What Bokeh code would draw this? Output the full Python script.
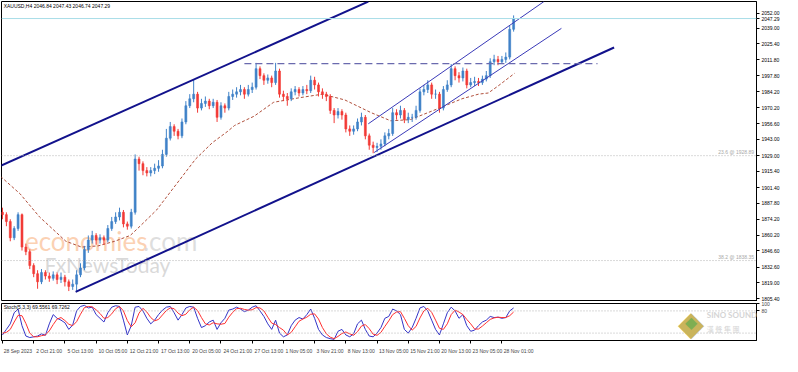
from bokeh.plotting import figure
from bokeh.models import Range1d, FixedTicker, PrintfTickFormatter, Span, Label, ColumnDataSource
from bokeh.layouts import column
from bokeh.embed import file_html
from bokeh.resources import INLINE

# ---------------- data ----------------
first_open = 1880
closes = [1878,1872,1858,1866,1878,1850,1846,1834,1827,1820,
          1828,1825,1823,1826,1822,1824,1820,1816,1818,1826,
          1832,1848,1856,1860,1856,1858,1856,1866,1872,1876,
          1880,1870,1868,1880,1926,1922,1916,1914,1916,1918,
          1920,1930,1944,1954,1950,1946,1958,1972,1978,1982,
          1970,1974,1976,1972,1975,1962,1972,1970,1980,1982,
          1984,1986,1982,1986,1988,2004,1998,1994,1996,1992,
          2002,1982,1980,1978,1984,1986,1983,1986,1985,1994,
          1990,1984,1982,1980,1968,1964,1967,1964,1952,1950,
          1952,1958,1962,1946,1938,1936,1937,1939,1946,1948,
          1966,1964,1968,1960,1962,1962,1968,1984,1986,1990,
          1982,1982,1970,1986,1990,2004,1998,1996,2002,1990,
          1992,1993,1992,1995,1998,2010,2012,2010,2012,2014,
          2038,2047.29]
highs = [1884,1880,1874,1868,1880,1879,1853,1848,1836,1830,
         1831,1830,1828,1829,1828,1828,1826,1822,1822,1830,
         1836,1851,1860,1864,1862,1861,1860,1869,1876,1880,
         1884,1882,1872,1883,1930,1928,1924,1919,1919,1922,
         1925,1934,1952,1958,1956,1952,1961,1976,1982,1995,
         1984,1978,1980,1978,1978,1977,1975,1974,1984,1986,
         1988,1990,1988,1990,1992,2009,2006,2000,1999,1998,
         2009,2004,1985,1983,1987,1989,1988,1989,1990,1998,
         1997,1992,1987,1984,1982,1970,1970,1969,1966,1955,
         1955,1961,1966,1964,1948,1941,1940,1943,1949,1952,
         1970,1969,1972,1970,1966,1965,1972,1987,1990,1994,
         1992,1986,1984,1989,1994,2008,2006,2001,2005,2004,
         1996,1997,1996,1998,2002,2013,2016,2015,2015,2018,
         2041,2050]
lows = [1874,1868,1855,1856,1864,1847,1843,1831,1824,1814,
        1818,1822,1820,1821,1818,1819,1816,1812,1813,1812,
        1824,1830,1845,1853,1852,1853,1852,1854,1864,1870,
        1873,1867,1865,1866,1878,1916,1912,1911,1911,1913,
        1915,1918,1928,1942,1946,1943,1944,1956,1970,1975,
        1966,1968,1971,1969,1970,1958,1960,1966,1968,1977,
        1979,1981,1978,1980,1983,1986,1995,1990,1991,1988,
        1990,1979,1976,1972,1976,1981,1980,1981,1982,1983,
        1986,1980,1978,1976,1965,1957,1961,1960,1949,1946,
        1947,1950,1955,1943,1934,1931,1932,1934,1937,1943,
        1946,1960,1961,1957,1957,1958,1960,1966,1981,1983,
        1978,1978,1966,1968,1984,1988,1994,1992,1993,1987,
        1988,1989,1989,1990,1993,1996,2007,2007,2008,2009,
        2012,2036]

# moving average: bar index, price
ma_idx = [-0.5, 4.5, 9.5, 16.25, 20.25, 24.5, 28.75, 32.75, 35.25, 39.5, 44.5, 49.5,
          53.75, 57.75, 59.5, 64.5, 69.5, 76.25, 82, 87.75, 94.5, 99.5, 104.5, 111.25,
          117.75, 122, 124.5, 127, 131.25]
ma_val = [1911, 1896, 1876, 1855, 1850, 1851, 1855, 1860, 1868, 1882, 1904, 1926,
          1940, 1950, 1955, 1963, 1975, 1979, 1982, 1977, 1966, 1959, 1960, 1969,
          1978, 1982, 1983, 1989, 2000]

# stochastic (5,3,3)
stoch_k = [15,30,45,75,85,40,12,8,10,12,
           18,14,45,70,60,55,48,30,42,80,
           92,95,88,90,70,60,50,75,90,94,
           92,55,15,40,90,92,80,60,45,55,
           70,82,90,92,75,55,70,88,92,90,
           60,35,40,50,55,30,48,60,82,85,
           90,85,78,82,90,94,80,65,45,30,
           55,20,10,15,40,55,62,58,70,85,
           60,30,15,8,5,3,25,30,15,10,
           18,45,55,30,12,10,20,35,60,65,
           85,80,70,30,20,35,60,88,92,80,
           55,30,15,45,75,90,80,60,70,40,
           25,28,40,50,55,65,62,63,60,62,
           80,88]
stoch_d = [20,22,30,50,68,67,46,20,10,10,
           13,15,26,43,58,62,54,44,40,51,
           71,89,92,91,83,73,60,62,72,86,
           92,80,54,37,48,74,87,77,62,53,
           57,69,81,88,86,74,67,71,83,90,
           81,62,45,42,48,45,44,46,63,76,
           86,87,84,82,83,89,88,80,63,47,
           43,35,28,15,22,37,52,58,63,71,
           72,58,35,18,9,5,11,19,23,18,
           14,24,39,43,32,17,14,22,38,53,
           70,77,78,60,40,28,38,61,80,87,
           76,55,33,30,45,70,82,77,70,57,
           45,31,31,39,48,57,61,63,62,62,
           67,77]

# drawn objects (bar index, price)
chan_upper_x = [-0.5, 93.75];   chan_upper_y = [1920.1, 2061.9]
chan_lower_x = [18.75, 156.75]; chan_lower_y = [1811.3, 2022.3]
inner_upper_x = [93.75, 138.75]; inner_upper_y = [1956.4, 2061.9]
inner_lower_x = [95.25, 143.25]; inner_lower_y = [1931.6, 2038.8]
resist_x = [62, 152.5]; resist_y = [2008.3, 2008.3]
fib_levels = [1928.89, 1838.35]
fib_texts = ["23.6 @ 1928.89", "38.2 @ 1838.35"]
last_price = 2047.29

price_ticks = [2052.00, 2039.00, 2025.40, 2011.80, 1997.80, 1984.20, 1970.20, 1956.60,
               1943.00, 1929.00, 1915.40, 1901.40, 1887.80, 1874.20, 1860.20, 1846.60,
               1832.60, 1819.00, 1805.40]
date_idx = [0, 8, 16, 24, 32, 40, 48, 56, 64, 72, 80, 88, 96, 104, 112, 120, 128]
date_labels = ["28 Sep 2023", "2 Oct 21:00", "5 Oct 13:00", "10 Oct 05:00", "12 Oct 21:00",
               "17 Oct 13:00", "20 Oct 05:00", "24 Oct 21:00", "27 Oct 13:00", "1 Nov 05:00",
               "3 Nov 21:00", "8 Nov 13:00", "13 Nov 05:00", "15 Nov 21:00", "20 Nov 13:00",
               "23 Nov 05:00", "28 Nov 01:00"]

# ---------------- layout ----------------
W = 782
RB = 24
X0, X1 = -0.25, 193.25
FONT = "Liberation Sans"
FS = "5px"
ppu = (W - RB - 1) / (X1 - X0)

n = len(closes)
opens = [first_open] + closes[:-1]
idx = list(range(n))
UP = "#3f82c8"
DN = "#f23a36"
cols = [UP if c >= o else DN for o, c in zip(opens, closes)]
src = ColumnDataSource(dict(x=idx, o=opens, c=closes, h=highs, l=lows, col=cols))

p = figure(width=W, height=301, x_range=Range1d(X0, X1), y_range=Range1d(1803, 2062),
           output_backend="svg", toolbar_location=None, x_axis_location=None,
           y_axis_location="right", min_border_left=1, min_border_right=RB,
           min_border_top=1, min_border_bottom=0)
p.grid.visible = False
p.outline_line_color = "black"
p.outline_line_alpha = 1
p.background_fill_color = "white"
p.border_fill_color = "white"
ya = p.yaxis[0]
ya.ticker = FixedTicker(ticks=price_ticks + [last_price])
ya.formatter = PrintfTickFormatter(format="%.2f")
ya.major_label_text_font = FONT
ya.major_label_text_font_size = FS
ya.major_label_text_color = "black"
ya.major_tick_in = 0
ya.major_tick_out = 3
ya.minor_tick_line_color = None
ya.major_label_standoff = 2
ya.axis_line_color = "black"

# watermarks
p.add_layout(Label(x=5.75, y=1841, text="economies", text_font="Lato", text_font_size="26px",
                   text_color="#fbc9a6", text_alpha=0.85, level="underlay"))
p.add_layout(Label(x=36.0, y=1841, text=".com", text_font="Lato", text_font_size="26px",
                   text_color="#d9d9d9", text_alpha=0.85, level="underlay"))
p.add_layout(Label(x=10.75, y=1824.5, text="FxNewsToday", text_font="Lato", text_font_size="21px",
                   text_color="#d2d2d2", text_alpha=0.85, level="underlay"))

# fib and price lines
for lv, tx in zip(fib_levels, fib_texts):
    p.add_layout(Span(location=lv, dimension="width", line_color="#b4b4b4", line_dash="1 2", line_width=1))
    p.add_layout(Label(x=192.6, y=lv + 0.6, text=tx, text_align="right", text_baseline="bottom",
                       text_font=FONT, text_font_size=FS, text_color="#a8a8a8"))
p.add_layout(Span(location=last_price, dimension="width", line_color="#a9dde8", line_width=1))

# MA
p.line(ma_idx, ma_val, line_color="#b0503c", line_dash="3 2", line_width=1)

# candles
p.segment(x0="x", y0="l", x1="x", y1="h", color="col", line_width=1, source=src)
p.vbar(x="x", width=0.5, top="o", bottom="c", fill_color="col", line_color="col", line_width=0.6, source=src)

# trendlines
p.line(chan_upper_x, chan_upper_y, line_color="#12128c", line_width=2)
p.line(chan_lower_x, chan_lower_y, line_color="#12128c", line_width=2)
p.line(inner_upper_x, inner_upper_y, line_color="#3a3ab8", line_width=1)
p.line(inner_lower_x, inner_lower_y, line_color="#3a3ab8", line_width=1)
p.line(resist_x, resist_y, line_color="#6a6aae", line_dash="7 4", line_width=1.2)

# title
p.add_layout(Label(x=0.3, y=2058.2, text="XAUUSD,H4  2046.84 2047.43 2046.74 2047.29",
                   text_baseline="middle", text_font=FONT, text_font_size=FS, text_color="black"))

# ---------------- stochastic ----------------
s = figure(width=W, height=55, x_range=p.x_range, y_range=Range1d(0, 100),
           output_backend="svg", toolbar_location=None, y_axis_location="right",
           x_axis_location="below", min_border_left=1, min_border_right=RB,
           min_border_top=2, min_border_bottom=12)
s.grid.visible = False
s.outline_line_color = "black"
s.background_fill_color = "white"
s.border_fill_color = "white"
sy = s.yaxis[0]
sy.ticker = FixedTicker(ticks=[100, 80])
sy.major_label_text_font = FONT
sy.major_label_text_font_size = FS
sy.major_tick_in = 0
sy.major_tick_out = 3
sy.major_label_standoff = 2
sy.axis_line_color = "black"

offs = [round(d + len(lb) * 1.3 / ppu + 0.3, 2) for d, lb in zip(date_idx, date_labels)]
sx = s.xaxis[0]
sx.ticker = FixedTicker(ticks=offs, minor_ticks=date_idx)
sx.major_label_overrides = {o: lb for o, lb in zip(offs, date_labels)}
sx.major_tick_line_color = None
sx.minor_tick_in = 0
sx.minor_tick_out = 3
sx.minor_tick_line_color = "black"
sx.major_label_standoff = 1
sx.major_label_text_font = FONT
sx.major_label_text_font_size = FS
sx.axis_line_color = "black"

for lv in (80, 20):
    s.add_layout(Span(location=lv, dimension="width", line_color="#b4b4b4", line_dash="1 2", line_width=1))
s.line(idx, stoch_k, line_color="#3434c8", line_width=1)
s.line(idx, stoch_d, line_color="#ff3030", line_width=1)
s.add_layout(Label(x=0.3, y=90, text="Stoch(5,3,3) 69.5561 69.7262", text_baseline="middle",
                   text_font=FONT, text_font_size=FS, text_color="black"))

# logo (kept inside the panel)
s.add_layout(Label(x=176.5, y=48, text="\u25c6", text_align="center", text_baseline="middle",
                   text_font="DejaVu Sans", text_font_size="34px", text_color="#c9b45c"))
s.add_layout(Label(x=176.5, y=48, text="\u25c6", text_align="center", text_baseline="middle",
                   text_font="DejaVu Sans", text_font_size="16px", text_color="#7fae52"))
s.add_layout(Label(x=180.5, y=68, text="SINO SOUND", text_font="Lato", text_font_style="bold",
                   text_font_size="8px", text_color="#d4d4d4", text_baseline="middle"))
s.add_layout(Label(x=180.5, y=30, text="漢 聲 集 團", text_font="Noto Sans CJK TC",
                   text_font_size="7px", text_color="#d4d4d4", text_baseline="middle"))

layout = column(p, s, spacing=0)
open("out.html", "w").write(file_html(layout, INLINE))
